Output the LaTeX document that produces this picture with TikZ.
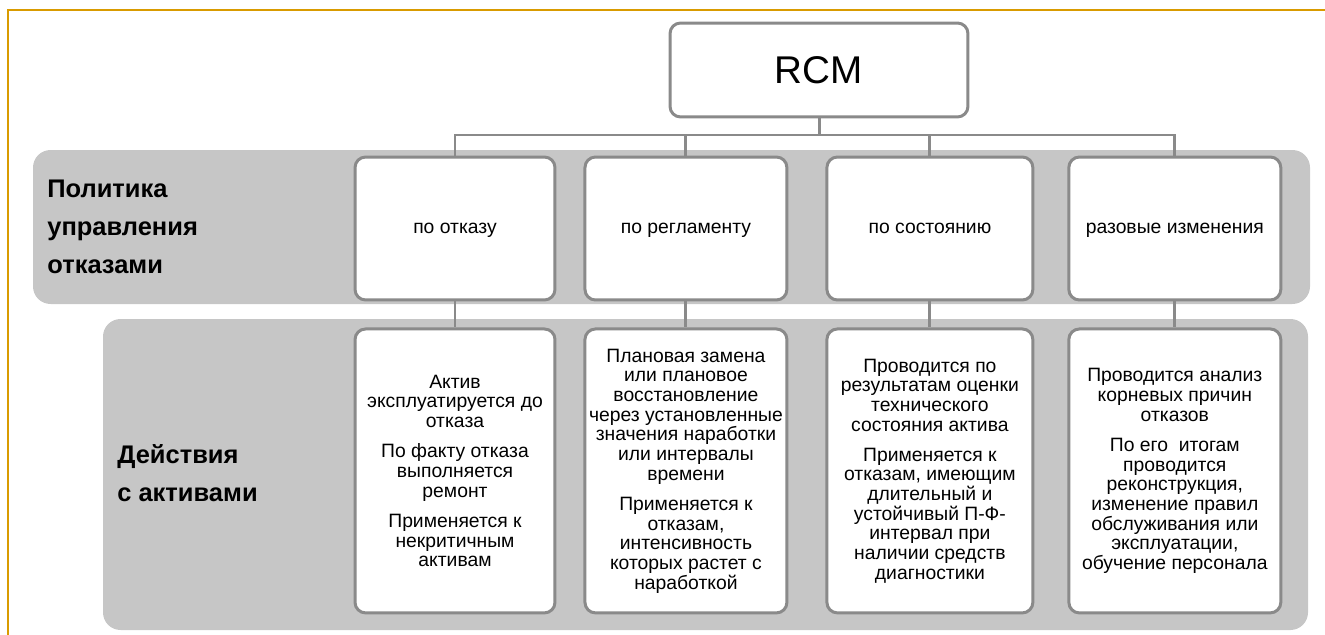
\documentclass[tikz,border=0pt]{standalone}
\usepackage{fontspec}
\setmainfont{Liberation Sans}
\usepackage{xcolor}
\usetikzlibrary{shapes,arrows,positioning}
\definecolor{boxgray}{RGB}{138,138,138}
\definecolor{bandgray}{RGB}{198,198,198}
\definecolor{framegold}{RGB}{217,155,0}
\begin{document}
\begin{tikzpicture}[x=0.02cm, y=-0.02cm,
  box/.style={draw=boxgray, line width=1.7pt, rounded corners=6pt, fill=white, align=center, inner sep=1pt, font=\fontsize{11}{11.2}\selectfont},
  topbox/.style={box, minimum height=2.86cm, text height=8pt, text depth=2.5pt},
  actbox/.style={box, minimum height=5.68cm, below=0.52cm of #1},
  band/.style={fill=bandgray, rounded corners=10pt},
  conn/.style={draw=boxgray, line width=1.7pt},
  rowlabel/.style={anchor=west, align=left, inner sep=0pt, font=\fontsize{14.5}{21.5}\selectfont\bfseries}]
  \useasboundingbox (0,0) rectangle (1325,635);
  \draw[framegold, line width=1.1pt] (8,635) -- (8,10) -- (1325,10);

  % grey bands
  \fill[band] (33,150) rectangle (1310,304);
  \fill[band] (103,319) rectangle (1308,630);
  \node[rowlabel] (policy) at (47,227) {Политика\\управления\\отказами};
  \node[rowlabel] (actions) at (117,473) {Действия\\с активами};

  % top
  \node[box, minimum width=5.96cm, minimum height=1.88cm, font=\fontsize{22}{24}\selectfont] (rcm) at (819,70) {RCM};

  % policies
  \node[topbox, minimum width=4cm] (runfail) at (455,228.5) {по отказу};
  \node[topbox, minimum width=4.04cm, right=0.54cm of runfail] (planned) {по регламенту};
  \node[topbox, minimum width=4.12cm, right=0.74cm of planned] (condition) {по состоянию};
  \node[topbox, minimum width=4.24cm, right=0.66cm of condition] (redesign) {разовые изменения};

  % actions
  \node[actbox=runfail, minimum width=4cm] (runfailact) {Актив\\эксплуатируется до\\отказа\\[6pt]По факту отказа\\выполняется\\ремонт\\[6pt]Применяется к\\некритичным\\активам};
  \node[actbox=planned, minimum width=4.04cm] (plannedact) {Плановая замена\\или плановое\\восстановление\\через установленные\\значения наработки\\или интервалы\\времени\\[6pt]Применяется к\\отказам,\\интенсивность\\которых растет с\\наработкой};
  \node[actbox=condition, minimum width=4.12cm] (conditionact) {Проводится по\\результатам оценки\\технического\\состояния актива\\[6pt]Применяется к\\отказам, имеющим\\длительный и\\устойчивый П-Ф-\\интервал при\\наличии средств\\диагностики};
  \node[actbox=redesign, minimum width=4.24cm] (redesignact) {Проводится анализ\\корневых причин\\отказов\\[6pt]По его\ \ итогам\\проводится\\реконструкция,\\изменение правил\\обслуживания или\\эксплуатации,\\обучение персонала};

  % connectors
  \coordinate (bus) at (819,135);
  \foreach \p in {runfail, planned, condition, redesign} {
    \draw[conn] (rcm.south) -- (bus) -| (\p.north);
    \draw[conn] (\p.south) -- (\p act.north);
  }
\end{tikzpicture}
\end{document}
